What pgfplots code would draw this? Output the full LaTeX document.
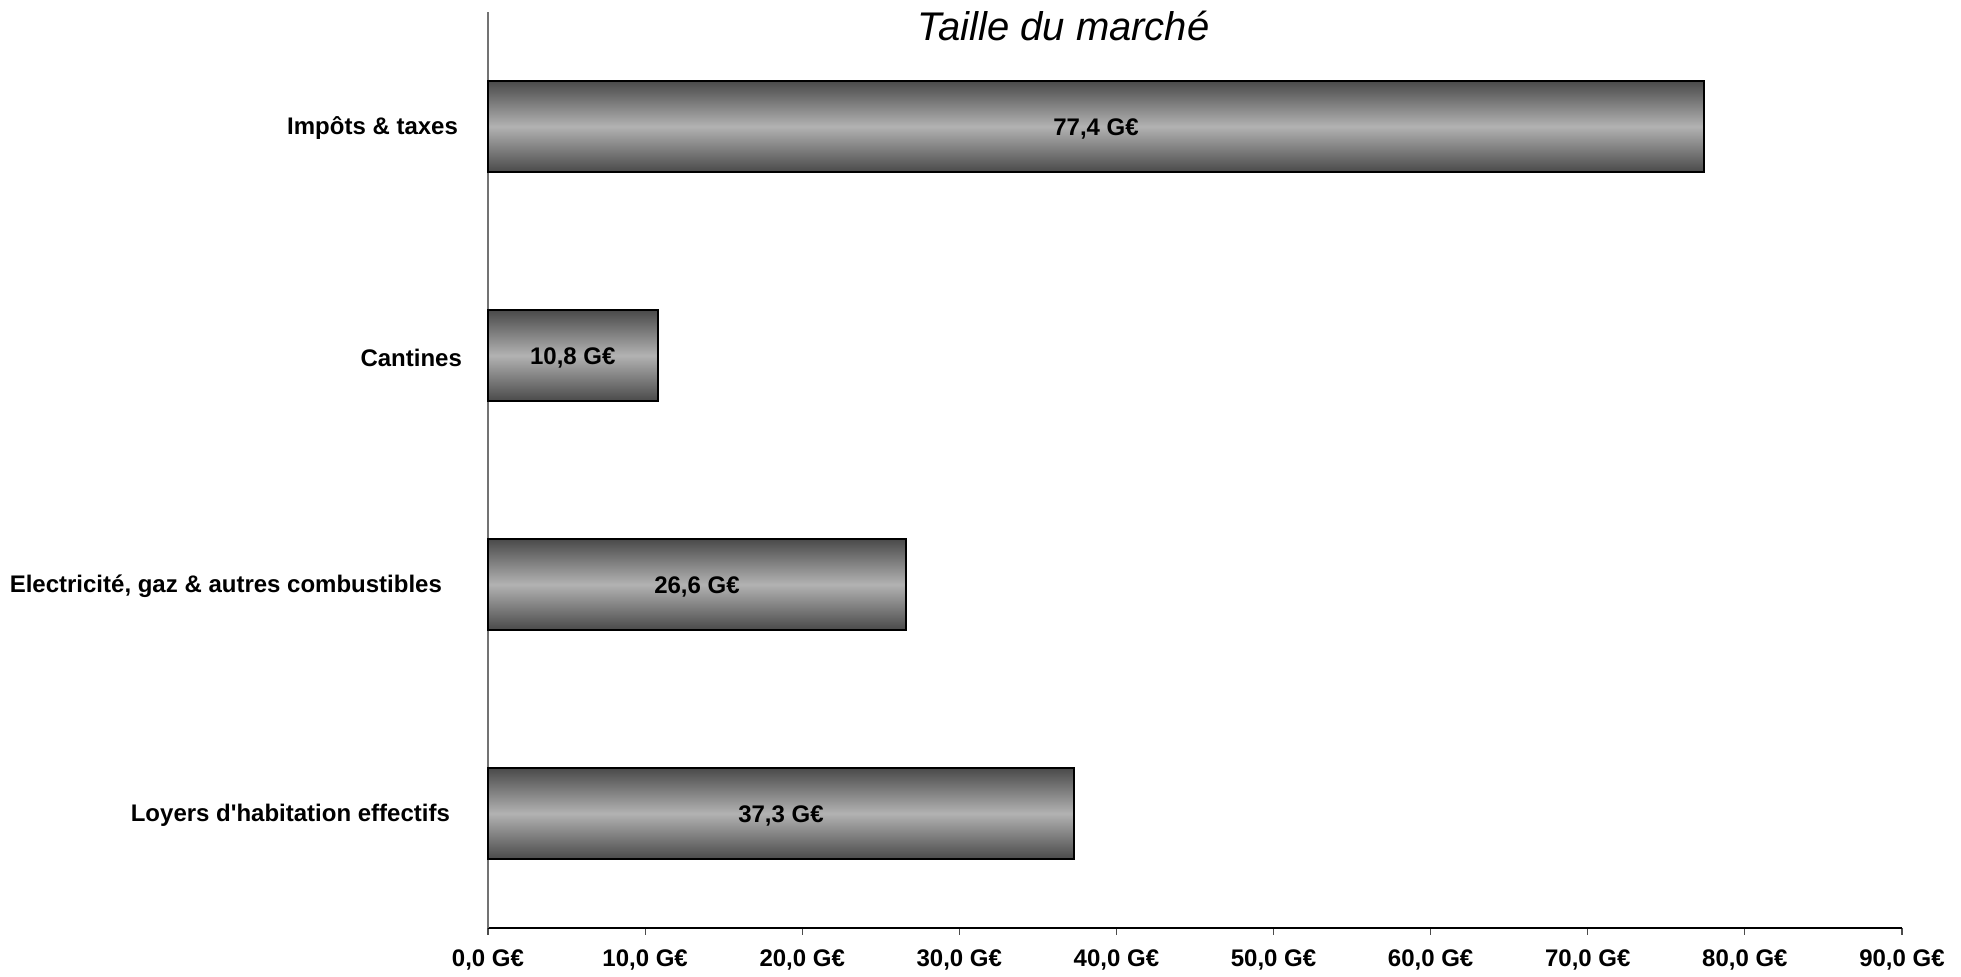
\documentclass[border=0pt]{standalone}
\usepackage{fontspec}
\setmainfont{Liberation Sans}
\usepackage{pgfplots}
\pgfplotsset{compat=1.18}
\definecolor{bardark}{HTML}{4A4A4A}
\definecolor{barlight}{HTML}{B2B2B2}
\pgfplotsset{
  gbar/.style={xbar, bar width=45.5pt, bar shift=0pt, draw=black, line width=1.1pt,
    shading=axis, top color=bardark, bottom color=bardark, middle color=barlight,
    visualization depends on={rawx \as \rawx},
    nodes near coords={\pgfmathprintnumber[fixed,fixed zerofill,precision=1,use comma]{\pgfplotspointmeta}~G€},
    every node near coord/.append style={font=\bfseries\fontsize{12}{14}\selectfont, anchor=center, xshift={-\rawx*3.9278pt}, yshift=-1pt},
  },
}
\begin{document}
\begin{tikzpicture}
\useasboundingbox (-244pt,-24.5pt) rectangle (736.5pt,464pt);
\begin{axis}[
  at={(0,0)}, anchor=south west,
  width=707pt, height=458pt, scale only axis,
  xmin=0, xmax=90, ymin=-0.5, ymax=3.5,
  axis x line=bottom, axis y line=left,
  axis line style={-},
  y axis line style={draw=black!55, line width=0.8pt},
  x axis line style={line width=0.8pt},
  xtick={0,10,...,90},
  xticklabels={{0,0 G€},{10,0 G€},{20,0 G€},{30,0 G€},{40,0 G€},{50,0 G€},{60,0 G€},{70,0 G€},{80,0 G€},{90,0 G€}},
  x tick style={draw=black!70, line width=0.6pt},
  tick align=outside, major tick length=3.5pt,
  xticklabel style={font=\bfseries\fontsize{12}{14}\selectfont, yshift=-4pt},
  ytick={0,1,2,3},
  yticklabels={{Loyers d\textquotesingle habitation effectifs\rule{4pt}{0pt}},{Electricité, gaz \& autres combustibles\rule{8pt}{0pt}},{Cantines\kern-2pt\relax},{Impôts \& taxes}},
  y tick style={draw=none},
  yticklabel style={font=\bfseries\fontsize{12}{14}\selectfont, anchor=east, xshift=-8pt, yshift=-1pt},
  /pgf/number format/assume math mode=true,
  clip=false,
]
\addplot[gbar] coordinates {(37.3,0)};
\addplot[gbar] coordinates {(26.6,1)};
\addplot[gbar] coordinates {(10.8,2)};
\addplot[gbar] coordinates {(77.4,3)};
\node[font=\itshape\fontsize{20}{24}\selectfont] at (rel axis cs:0.407,0.985) {Taille du marché};
\end{axis}
\end{tikzpicture}
\end{document}
